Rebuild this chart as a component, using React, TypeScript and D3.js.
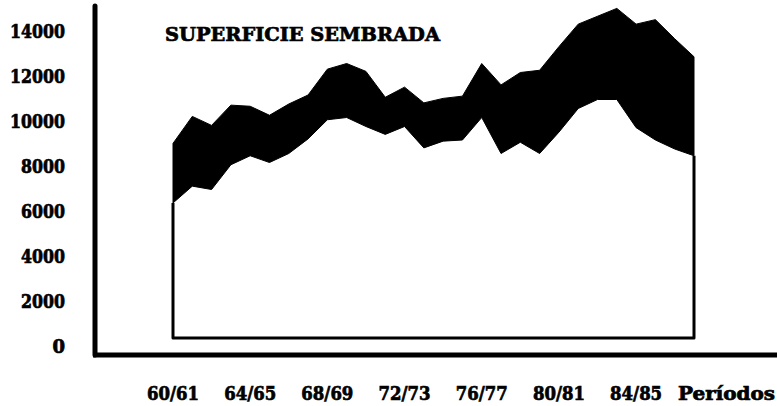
import React from "react";
import * as d3 from "d3";

const periods = [
  "60/61", "61/62", "62/63", "63/64", "64/65", "65/66", "66/67", "67/68",
  "68/69", "69/70", "70/71", "71/72", "72/73", "73/74", "74/75", "75/76",
  "76/77", "77/78", "78/79", "79/80", "80/81", "81/82", "82/83", "83/84",
  "84/85", "85/86", "86/87", "87/88",
];
const upperValues = [
  8650, 9850, 9450, 10350, 10300, 9900, 10400, 10800, 11950, 12200, 11850,
  10700, 11150, 10450, 10650, 10750, 12200, 11250, 11800, 11900, 12950, 13950,
  14300, 14650, 13950, 14150, 13300, 12500,
];
const lowerValues = [
  6000, 6750, 6600, 7700, 8100, 7800, 8200, 8850, 9700, 9800, 9400, 9050,
  9400, 8450, 8750, 8800, 9800, 8200, 8700, 8200, 9150, 10200, 10600, 10600,
  9350, 8800, 8400, 8100,
];
const yTicks = [0, 2000, 4000, 6000, 8000, 10000, 12000, 14000];
const xTickLabels = ["60/61", "64/65", "68/69", "72/73", "76/77", "80/81", "84/85"];
const title = "SUPERFICIE SEMBRADA";
const xAxisTitle = "Períodos";

const W = 777;
const H = 406;
const FONT = "'DejaVu Serif', 'Liberation Serif', serif";

export default function App() {
  const x = d3.scalePoint<string>().domain(periods).range([173, 694]).padding(0);
  const y = d3.scaleLinear().domain([0, 14000]).range([338, 23]);

  const rows = periods.map((p, i) => ({ p, hi: upperValues[i], lo: lowerValues[i] }));
  const band = d3
    .area<{ p: string; hi: number; lo: number }>()
    .x((d) => x(d.p) as number)
    .y0((d) => y(d.lo))
    .y1((d) => y(d.hi))
    .curve(d3.curveLinear)(rows) as string;

  const first = periods[0];
  const last = periods[periods.length - 1];
  const boxPath = d3.line<[number, number]>()([
    [x(first) as number, y(lowerValues[0])],
    [x(first) as number, y(0)],
    [x(last) as number, y(0)],
    [x(last) as number, y(lowerValues[lowerValues.length - 1])],
  ]) as string;

  const textStyle = {
    fontFamily: FONT,
    fontWeight: "bold" as const,
    fill: "#000",
    stroke: "#000",
    strokeWidth: 0.7,
  };

  return (
    <svg
      width={W}
      height={H}
      viewBox={`0 0 ${W} ${H}`}
      style={{ position: "absolute", left: 0, top: 0, background: "#fff" }}
    >
      <rect x={0} y={0} width={W} height={H} fill="#fff" />
      <path d={band} fill="#000" stroke="#000" strokeWidth={1} strokeLinejoin="round" />
      <path d={boxPath} fill="none" stroke="#000" strokeWidth={3} strokeLinejoin="round" />

      <line x1={95} y1={6} x2={95} y2={355} stroke="#000" strokeWidth={5} strokeLinecap="round" />
      <line x1={93} y1={355} x2={777} y2={355} stroke="#000" strokeWidth={5} />

      {yTicks.map((t) => (
        <text
          key={t}
          x={65}
          y={y(t) + 8.7}
          dominantBaseline="central"
          textAnchor="end"
          fontSize={18}
          textLength={t === 0 ? undefined : String(t).length * 11}
          lengthAdjust="spacingAndGlyphs"
          style={textStyle}
        >
          {t}
        </text>
      ))}

      {xTickLabels.map((l) => (
        <text
          key={l}
          x={x(l) as number}
          y={400}
          textAnchor="middle"
          fontSize={18}
          textLength={52}
          lengthAdjust="spacingAndGlyphs"
          style={textStyle}
        >
          {l}
        </text>
      ))}
      <text
        x={678}
        y={400}
        fontSize={18}
        textLength={97}
        lengthAdjust="spacingAndGlyphs"
        style={textStyle}
      >
        {xAxisTitle}
      </text>

      <text
        x={165}
        y={41}
        fontSize={19}
        textLength={275}
        lengthAdjust="spacingAndGlyphs"
        style={textStyle}
      >
        {title}
      </text>
    </svg>
  );
}
